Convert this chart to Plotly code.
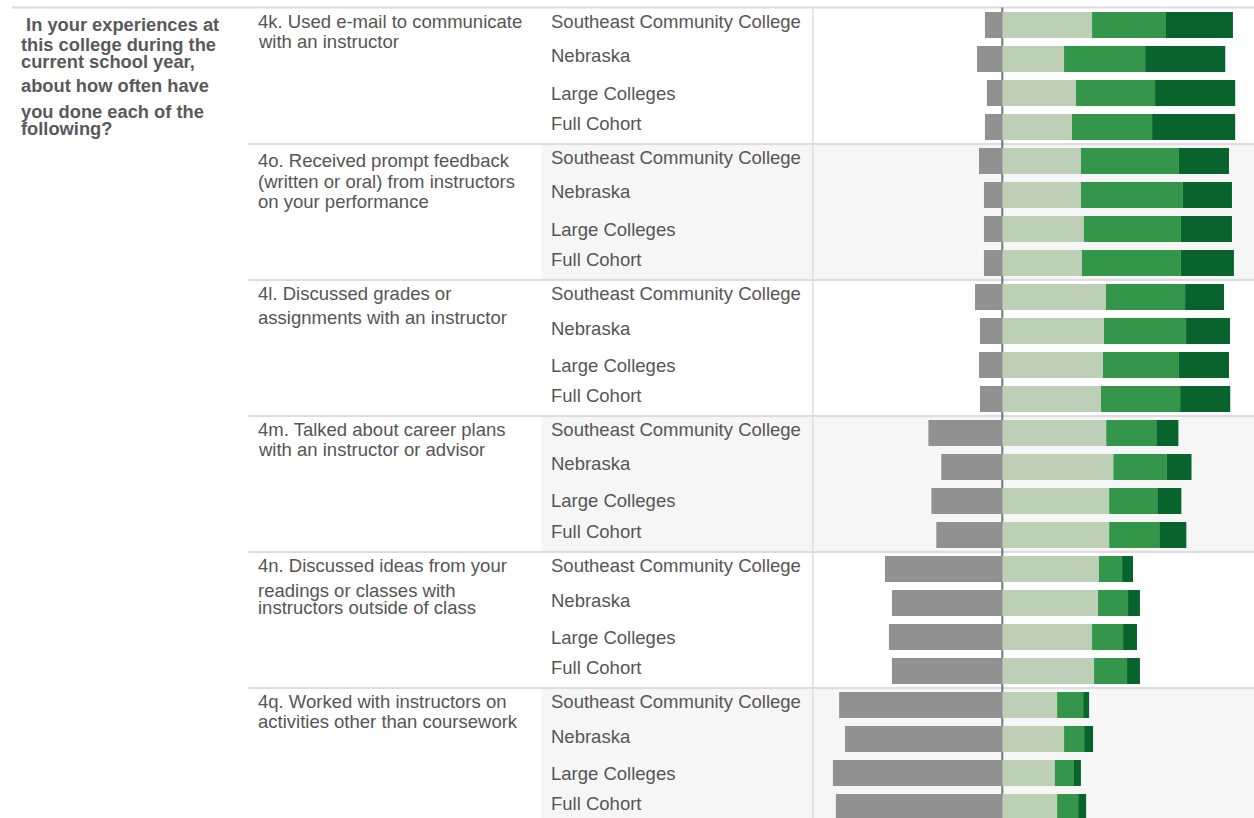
import plotly.graph_objects as go

# ---------------- data ----------------
groups = ["Southeast Community College", "Nebraska", "Large Colleges", "Full Cohort"]
questions = [
    ["4k. Used e-mail to communicate", "with an instructor"],
    ["4o. Received prompt feedback", "(written or oral) from instructors", "on your performance"],
    ["4l. Discussed grades or", "assignments with an instructor"],
    ["4m. Talked about career plans", "with an instructor or advisor"],
    ["4n. Discussed ideas from your", "readings or classes with", "instructors outside of class"],
    ["4q. Worked with instructors on", "activities other than coursework"],
]
header_lines = [" In your experiences at", "this college during the", "current school year,",
                "about how often have", "you done each of the", "following?"]

never = [7.0, 10.2, 6.2, 7.0,
         9.4, 7.4, 7.4, 7.4,
         11.0, 9.0, 9.4, 9.0,
         29.8, 24.6, 28.6, 26.6,
         47.3, 44.5, 45.7, 44.5,
         65.8, 63.4, 68.3, 67.1]
sometimes = [36.2, 24.9, 29.7, 28.1,
             31.7, 31.7, 32.9, 32.1,
             41.8, 41.0, 40.6, 39.8,
             41.9, 44.8, 43.1, 43.1,
             39.0, 38.6, 36.2, 37.0,
             22.1, 24.9, 21.2, 22.1]
often = [29.8, 32.7, 31.9, 32.3,
         39.5, 41.1, 39.1, 39.9,
         31.9, 33.1, 30.6, 31.9,
         20.2, 21.4, 19.4, 20.2,
         9.3, 12.1, 12.5, 13.3,
         10.5, 8.1, 7.7, 8.5]
very_often = [27.0, 32.3, 32.3, 33.5,
              20.2, 19.8, 20.6, 21.4,
              15.7, 17.7, 20.2, 20.2,
              8.9, 10.1, 9.7, 10.9,
              4.4, 4.8, 5.6, 5.2,
              2.4, 3.6, 2.8, 3.2]

# ---------------- styles ----------------
W, H = 1254, 818
ROW = 34.0          # px per row
ROW0 = 25.0         # px centre of first row
PX_PER_PCT = 2.48
ZERO_PX = 1002.3
PLOT_LEFT = 813.0
FONT = "Arial, 'Liberation Sans', sans-serif"
TXT = "#555555"
C_NEVER = "#919191"
C_SOME = "#bdcfb5"
C_OFTEN = "#34964a"
C_VERY = "#08632c"
BAND = "#f6f6f6"
RULE = "#dcdcdc"

cats = [f"{qi}-{g}" for qi in range(len(questions)) for g in groups]

fig = go.Figure()
for name, vals, col, sign in [("Never", never, C_NEVER, -1),
                              ("Sometimes", sometimes, C_SOME, 1),
                              ("Often", often, C_OFTEN, 1),
                              ("Very often", very_often, C_VERY, 1)]:
    fig.add_trace(go.Bar(y=cats, x=[sign * v for v in vals], orientation="h",
                         marker=dict(color=col, line=dict(width=0)), name=name,
                         hoverinfo="skip"))

def py2paper(py):
    return 1 - py / H

shapes = []
# alternating background bands
for qi in range(len(questions)):
    if qi % 2 == 1:
        shapes.append(dict(type="rect", xref="paper", yref="y", x0=541 / W, x1=1,
                           y0=qi * 4 - 0.5, y1=qi * 4 + 3.5, fillcolor=BAND,
                           line=dict(width=0), layer="below"))
# separators
for qi in range(1, len(questions)):
    shapes.append(dict(type="line", xref="paper", yref="y", x0=248 / W, x1=1,
                       y0=qi * 4 - 0.5, y1=qi * 4 - 0.5, line=dict(color=RULE, width=2),
                       layer="below"))
shapes.append(dict(type="line", xref="paper", yref="paper", x0=12 / W, x1=1,
                   y0=py2paper(7.5), y1=py2paper(7.5), line=dict(color=RULE, width=2),
                   layer="below"))
# left border of bar column
shapes.append(dict(type="line", xref="paper", yref="paper", x0=PLOT_LEFT / W, x1=PLOT_LEFT / W,
                   y0=0, y1=py2paper(7.5), line=dict(color=RULE, width=1.5), layer="below"))
# zero line
shapes.append(dict(type="line", xref="x", yref="paper", x0=0, x1=0,
                   y0=0, y1=py2paper(7.5), line=dict(color="#777777", width=2), layer="below"))

ann = []
def add_text(txt, x, py, bold=False):
    ann.append(dict(text=f"<b>{txt}</b>" if bold else txt, xref="paper", yref="paper",
                    x=x / W, y=py2paper(py), xanchor="left", yanchor="middle",
                    showarrow=False, font=dict(family=FONT, size=18.5 if not bold else 18.3,
                                               color=TXT if not bold else "#595959")))

header_y = [24, 44, 62, 86, 111, 128]
for t, yy in zip(header_lines, header_y):
    add_text(t, 19, yy, bold=True)

q_offsets_g = [[13, 33], [16, 38, 58], [13, 38], [13, 33], [13, 38, 55], [13, 33]]
group_offsets = [13, 48, 85, 115]
for qi, lines in enumerate(questions):
    top = 8 + 136 * qi
    for t, off in zip(lines, q_offsets_g[qi]):
        add_text(t, 256, top + off)
    for g, off in zip(groups, group_offsets):
        add_text(g, 549, top + off)

x_left = -(ZERO_PX - PLOT_LEFT) / PX_PER_PCT
x_right = (W - ZERO_PX) / PX_PER_PCT
y_top = (0 - ROW0) / ROW
y_bot = (H - ROW0) / ROW

fig.update_layout(
    width=W, height=H, margin=dict(l=0, r=0, t=0, b=0),
    barmode="relative", bargap=1 - 26 / 34,
    paper_bgcolor="white", plot_bgcolor="rgba(0,0,0,0)",
    showlegend=False, shapes=shapes, annotations=ann,
    xaxis=dict(domain=[PLOT_LEFT / W, 1], range=[x_left, x_right], visible=False,
               showgrid=False, zeroline=False),
    yaxis=dict(range=[y_bot, y_top], visible=False, showgrid=False, zeroline=False,
               categoryorder="array", categoryarray=cats),
)

fig.write_html("out.html", config={"displayModeBar": False},
               post_script="document.body.style.margin='0';document.body.style.overflow='hidden';")
